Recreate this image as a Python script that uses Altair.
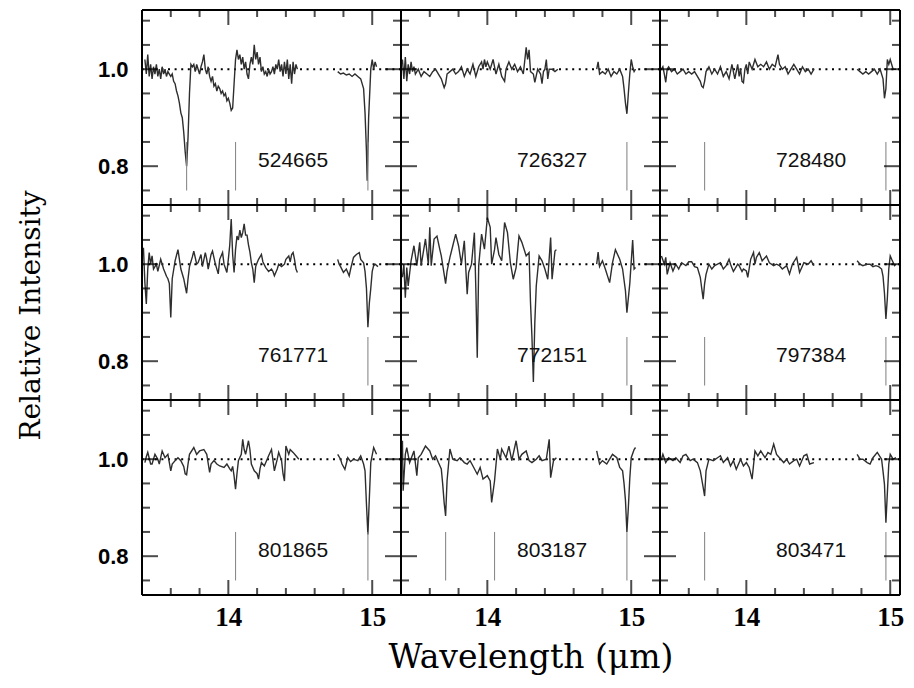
import altair as alt
import pandas as pd

IDS = ["524665", "726327", "728480",
       "761771", "772151", "797384",
       "801865", "803187", "803471"]

# (wavelength um, relative intensity); A = short segment, B = long segment
S524665_A = [(13.42, 1.02), (13.43, 0.99), (13.44, 1.03), (13.45, 0.985), (13.46, 1.01), (13.47, 0.98),
             (13.48, 1.005), (13.49, 0.99), (13.50, 1.01), (13.51, 0.985), (13.52, 1.0), (13.53, 0.98),
             (13.54, 1.005), (13.55, 0.99), (13.56, 1.0), (13.57, 0.985), (13.58, 0.995), (13.59, 0.99),
             (13.60, 0.985), (13.61, 0.99), (13.62, 0.975), (13.63, 0.97), (13.64, 0.955), (13.65, 0.945),
             (13.66, 0.93), (13.67, 0.91), (13.68, 0.90), (13.69, 0.87), (13.70, 0.83), (13.71, 0.80),
             (13.72, 0.86), (13.73, 0.95), (13.74, 1.01), (13.75, 1.005), (13.76, 1.01), (13.77, 0.995),
             (13.78, 1.01), (13.79, 1.0), (13.80, 0.99), (13.81, 1.005), (13.82, 1.015), (13.83, 1.03),
             (13.84, 1.0), (13.85, 0.99), (13.86, 1.005), (13.87, 0.985), (13.88, 0.975), (13.89, 0.985),
             (13.90, 0.965), (13.91, 0.97), (13.92, 0.955), (13.93, 0.965), (13.94, 0.96), (13.95, 0.95),
             (13.96, 0.955), (13.97, 0.945), (13.98, 0.95), (13.99, 0.935), (14.00, 0.94), (14.01, 0.93),
             (14.02, 0.915), (14.03, 0.92), (14.04, 0.97), (14.05, 1.02), (14.06, 1.04), (14.07, 1.02),
             (14.08, 1.03), (14.09, 1.01), (14.10, 1.025), (14.11, 1.0), (14.12, 1.015), (14.13, 0.99),
             (14.14, 0.98), (14.15, 1.01), (14.16, 1.025), (14.17, 1.01), (14.18, 1.05), (14.19, 1.02),
             (14.20, 1.035), (14.21, 1.01), (14.22, 1.025), (14.23, 0.995), (14.24, 1.005), (14.25, 0.99),
             (14.26, 0.995), (14.27, 0.985), (14.28, 1.0), (14.29, 0.99), (14.30, 0.995), (14.31, 1.005),
             (14.32, 0.99), (14.33, 1.01), (14.34, 1.0), (14.35, 1.02), (14.36, 0.995), (14.37, 1.01),
             (14.38, 0.985), (14.39, 1.015), (14.40, 0.99), (14.41, 1.02), (14.42, 0.98), (14.43, 1.01),
             (14.44, 0.97), (14.45, 1.015), (14.46, 0.99), (14.47, 1.01), (14.48, 1.0)]
S524665_B = [(14.76, 0.995), (14.78, 0.99), (14.80, 0.992), (14.82, 0.988), (14.84, 0.99), (14.86, 0.985),
             (14.88, 0.99), (14.90, 0.985), (14.92, 0.98), (14.94, 0.96), (14.95, 0.91), (14.96, 0.83),
             (14.965, 0.77), (14.975, 0.90), (14.99, 1.0), (15.00, 1.02), (15.01, 1.0), (15.02, 1.015),
             (15.03, 1.005)]

S726327_A = [(13.41, 1.02), (13.42, 0.98), (13.43, 1.025), (13.44, 0.975), (13.45, 1.01), (13.46, 0.99),
             (13.47, 1.015), (13.48, 0.995), (13.49, 1.005), (13.50, 0.99), (13.52, 1.0), (13.54, 0.985),
             (13.56, 0.995), (13.58, 0.99), (13.60, 0.985), (13.62, 0.995), (13.64, 1.0), (13.66, 0.99),
             (13.68, 0.98), (13.70, 0.962), (13.71, 0.97), (13.72, 0.99), (13.74, 0.995), (13.76, 1.0),
             (13.78, 0.99), (13.80, 0.995), (13.82, 1.005), (13.84, 0.985), (13.86, 1.0), (13.88, 0.99),
             (13.90, 1.01), (13.92, 0.985), (13.94, 1.005), (13.96, 1.015), (13.97, 1.0), (13.98, 1.02),
             (13.99, 1.005), (14.00, 1.015), (14.02, 1.0), (14.04, 1.02), (14.06, 0.99), (14.08, 1.01),
             (14.10, 0.985), (14.12, 0.975), (14.13, 1.0), (14.15, 1.015), (14.17, 1.0), (14.19, 1.01),
             (14.21, 0.995), (14.23, 1.005), (14.25, 0.99), (14.27, 1.045), (14.28, 1.02), (14.29, 1.04),
             (14.30, 0.995), (14.32, 0.99), (14.33, 0.973), (14.35, 1.0), (14.37, 0.99), (14.38, 0.97),
             (14.39, 0.995), (14.40, 1.0), (14.41, 1.02), (14.42, 0.98), (14.43, 1.0), (14.45, 1.0),
             (14.47, 0.995), (14.49, 1.0)]
S726327_B = [(14.76, 1.0), (14.77, 1.015), (14.78, 0.99), (14.80, 0.995), (14.82, 0.99), (14.84, 1.0),
             (14.86, 0.985), (14.88, 0.995), (14.90, 0.99), (14.92, 1.0), (14.94, 0.985), (14.95, 0.96),
             (14.96, 0.93), (14.97, 0.908), (14.98, 0.95), (14.99, 0.99), (15.00, 1.02), (15.01, 1.005),
             (15.02, 0.995), (15.03, 1.0)]

S728480_A = [(13.41, 1.0), (13.42, 1.005), (13.43, 0.99), (13.44, 0.973), (13.45, 1.0), (13.46, 1.005),
             (13.48, 0.995), (13.50, 1.0), (13.52, 0.99), (13.54, 0.995), (13.56, 1.0), (13.58, 0.99),
             (13.60, 0.995), (13.62, 0.99), (13.64, 0.995), (13.66, 0.985), (13.68, 0.975), (13.69, 0.965),
             (13.70, 0.962), (13.71, 0.975), (13.72, 0.995), (13.74, 1.005), (13.76, 0.99), (13.78, 1.0),
             (13.80, 0.99), (13.82, 1.005), (13.84, 0.985), (13.86, 0.995), (13.88, 0.98), (13.90, 1.01),
             (13.92, 0.98), (13.94, 1.01), (13.95, 0.985), (13.96, 1.0), (13.97, 0.975), (13.98, 0.972),
             (13.99, 1.0), (14.00, 1.01), (14.01, 0.99), (14.02, 1.015), (14.04, 1.0), (14.06, 1.02),
             (14.08, 1.005), (14.10, 1.01), (14.12, 1.005), (14.14, 1.015), (14.16, 1.0), (14.18, 1.01),
             (14.20, 1.005), (14.22, 1.03), (14.23, 1.01), (14.25, 1.0), (14.27, 1.005), (14.29, 0.99),
             (14.31, 1.0), (14.33, 1.01), (14.35, 1.0), (14.37, 0.99), (14.39, 1.005), (14.41, 0.995),
             (14.43, 1.0), (14.45, 0.99), (14.47, 1.0)]
S728480_B = [(14.77, 1.0), (14.79, 0.995), (14.81, 0.99), (14.83, 0.995), (14.85, 0.99), (14.87, 0.995),
             (14.89, 1.0), (14.91, 0.99), (14.93, 1.0), (14.95, 0.98), (14.96, 0.94), (14.97, 0.96),
             (14.98, 1.02), (14.99, 1.01), (15.00, 1.02), (15.02, 1.0), (15.04, 1.0)]

S761771_A = [(13.41, 1.034), (13.42, 0.962), (13.43, 0.918), (13.44, 0.99), (13.45, 1.024), (13.46, 1.0),
             (13.47, 1.017), (13.48, 0.99), (13.50, 1.0), (13.51, 0.985), (13.53, 1.01), (13.55, 0.99),
             (13.56, 0.983), (13.57, 0.975), (13.58, 0.97), (13.59, 0.96), (13.60, 0.89), (13.61, 0.97),
             (13.63, 1.007), (13.65, 1.03), (13.66, 1.01), (13.67, 0.99), (13.69, 0.97), (13.70, 0.955),
             (13.71, 0.94), (13.72, 0.97), (13.73, 0.995), (13.75, 1.015), (13.76, 1.027), (13.78, 1.0),
             (13.79, 1.003), (13.81, 1.02), (13.82, 0.995), (13.84, 1.024), (13.85, 1.01), (13.86, 0.99),
             (13.88, 1.02), (13.89, 1.027), (13.91, 1.0), (13.93, 0.98), (13.94, 1.01), (13.96, 1.024),
             (13.97, 1.0), (13.99, 0.983), (14.00, 1.01), (14.01, 1.04), (14.02, 1.093), (14.03, 1.02),
             (14.04, 0.983), (14.05, 1.03), (14.06, 1.058), (14.07, 1.05), (14.08, 1.07), (14.09, 1.055),
             (14.10, 1.065), (14.11, 1.083), (14.12, 1.06), (14.13, 1.06), (14.14, 1.04), (14.15, 1.025),
             (14.16, 1.003), (14.17, 0.99), (14.18, 0.962), (14.19, 0.995), (14.20, 1.003), (14.21, 1.01),
             (14.22, 1.015), (14.23, 1.02), (14.24, 1.005), (14.26, 0.993), (14.28, 0.985), (14.30, 0.99),
             (14.31, 0.985), (14.32, 0.976), (14.34, 0.99), (14.35, 1.0), (14.37, 0.995), (14.39, 1.0),
             (14.40, 1.01), (14.42, 1.017), (14.43, 1.005), (14.44, 1.02), (14.45, 1.024), (14.46, 1.01),
             (14.47, 0.99), (14.48, 0.983)]
S761771_B = [(14.76, 1.01), (14.77, 1.0), (14.78, 0.995), (14.80, 0.983), (14.82, 0.99), (14.84, 0.976),
             (14.85, 0.99), (14.87, 1.014), (14.89, 1.02), (14.91, 1.024), (14.92, 1.01), (14.94, 1.003),
             (14.95, 0.985), (14.96, 0.95), (14.97, 0.87), (14.98, 0.92), (14.99, 0.95), (15.00, 0.985),
             (15.01, 0.997), (15.02, 1.0), (15.04, 0.995)]

S772151_A = [(13.41, 0.973), (13.42, 1.0), (13.43, 0.931), (13.44, 0.993), (13.45, 0.955), (13.47, 1.007),
             (13.49, 1.038), (13.51, 0.997), (13.53, 1.045), (13.54, 0.997), (13.57, 1.052), (13.59, 1.0),
             (13.60, 1.076), (13.61, 0.997), (13.63, 1.052), (13.65, 1.058), (13.67, 1.03), (13.68, 1.017),
             (13.71, 0.96), (13.72, 0.985), (13.74, 1.014), (13.76, 1.038), (13.78, 1.062), (13.80, 1.038),
             (13.82, 1.0), (13.84, 1.048), (13.86, 0.938), (13.87, 0.983), (13.89, 1.0), (13.91, 1.065),
             (13.92, 0.95), (13.93, 0.807), (13.94, 0.997), (13.96, 1.062), (13.98, 1.031), (14.00, 1.096),
             (14.02, 1.076), (14.03, 1.0), (14.05, 1.03), (14.06, 1.055), (14.08, 1.02), (14.10, 1.007),
             (14.12, 1.086), (14.14, 1.065), (14.16, 1.003), (14.18, 0.969), (14.20, 0.993), (14.22, 1.058),
             (14.24, 1.045), (14.27, 1.017), (14.29, 1.024), (14.30, 0.921), (14.31, 0.85), (14.32, 0.757),
             (14.33, 0.88), (14.34, 0.955), (14.36, 1.017), (14.38, 1.007), (14.40, 0.99), (14.42, 0.969),
             (14.44, 1.055), (14.45, 0.969), (14.47, 1.027), (14.48, 1.03)]
S772151_B = [(14.76, 1.0), (14.77, 1.025), (14.78, 0.995), (14.80, 1.007), (14.82, 0.99), (14.85, 0.962),
             (14.87, 1.003), (14.89, 1.03), (14.92, 1.01), (14.94, 0.99), (14.96, 0.945), (14.97, 0.90),
             (14.99, 0.96), (15.01, 1.05), (15.02, 0.99), (15.03, 0.993)]

S797384_A = [(13.41, 1.017), (13.43, 1.0), (13.44, 1.014), (13.45, 0.979), (13.47, 1.003), (13.49, 0.986),
             (13.51, 1.0), (13.53, 0.99), (13.55, 1.003), (13.58, 0.997), (13.60, 1.005), (13.62, 1.005),
             (13.64, 0.995), (13.66, 0.993), (13.68, 0.973), (13.69, 0.95), (13.70, 0.928), (13.71, 0.96),
             (13.72, 0.979), (13.74, 1.0), (13.76, 0.99), (13.78, 0.997), (13.80, 1.0), (13.82, 1.003),
             (13.84, 0.99), (13.86, 0.997), (13.88, 1.01), (13.89, 1.0), (13.91, 0.985), (13.92, 0.99),
             (13.94, 1.0), (13.95, 0.997), (13.97, 0.985), (13.98, 0.99), (14.00, 0.986), (14.01, 0.973),
             (14.03, 1.01), (14.05, 1.024), (14.06, 1.0), (14.07, 1.014), (14.09, 1.024), (14.11, 1.007),
             (14.14, 1.017), (14.16, 1.003), (14.19, 0.997), (14.21, 1.0), (14.23, 0.997), (14.25, 0.99),
             (14.28, 0.997), (14.30, 0.98), (14.32, 1.0), (14.35, 1.014), (14.37, 0.983), (14.40, 1.003),
             (14.43, 1.0), (14.45, 1.007), (14.47, 0.997)]
S797384_B = [(14.77, 1.007), (14.79, 1.0), (14.81, 0.997), (14.84, 1.0), (14.86, 1.0), (14.88, 0.995),
             (14.90, 0.997), (14.92, 0.995), (14.94, 0.99), (14.95, 0.975), (14.96, 0.94), (14.97, 0.887),
             (14.98, 0.93), (14.99, 0.99), (15.00, 1.017), (15.01, 1.01), (15.03, 0.997), (15.04, 1.0)]

S801865_A = [(13.42, 0.993), (13.43, 1.005), (13.44, 1.014), (13.46, 0.99), (13.47, 0.99), (13.49, 1.01),
             (13.51, 1.0), (13.52, 0.99), (13.54, 1.017), (13.56, 1.003), (13.58, 1.01), (13.60, 0.976),
             (13.61, 0.99), (13.63, 0.997), (13.65, 1.003), (13.67, 0.997), (13.69, 0.985), (13.70, 0.97),
             (13.71, 0.968), (13.72, 0.99), (13.73, 1.01), (13.76, 1.024), (13.78, 1.01), (13.80, 1.017),
             (13.83, 1.02), (13.85, 1.01), (13.87, 0.973), (13.88, 0.99), (13.90, 0.997), (13.92, 0.99),
             (13.94, 0.986), (13.97, 0.983), (13.99, 0.99), (14.01, 0.98), (14.02, 0.976), (14.03, 0.985),
             (14.04, 0.965), (14.05, 0.938), (14.06, 0.97), (14.07, 0.997), (14.09, 1.01), (14.10, 1.041),
             (14.11, 1.02), (14.12, 1.01), (14.14, 1.038), (14.15, 1.02), (14.16, 0.99), (14.18, 0.976),
             (14.20, 0.97), (14.21, 0.959), (14.22, 0.98), (14.23, 0.993), (14.25, 0.986), (14.28, 1.007),
             (14.30, 1.02), (14.32, 0.976), (14.34, 1.0), (14.35, 1.014), (14.37, 0.997), (14.38, 0.97),
             (14.39, 0.955), (14.40, 1.027), (14.42, 1.01), (14.43, 1.02), (14.45, 1.014), (14.47, 1.007),
             (14.49, 1.0)]
S801865_B = [(14.76, 1.01), (14.78, 1.0), (14.79, 0.99), (14.81, 0.979), (14.83, 1.003), (14.85, 0.995),
             (14.87, 1.0), (14.90, 0.997), (14.92, 1.007), (14.94, 0.99), (14.95, 0.976), (14.96, 0.907),
             (14.97, 0.845), (14.98, 0.92), (14.99, 0.993), (15.01, 1.024), (15.03, 1.01)]

S803187_A = [(13.41, 1.038), (13.415, 0.935), (13.43, 1.01), (13.44, 1.024), (13.46, 0.993), (13.49, 1.017),
             (13.51, 0.966), (13.52, 1.003), (13.54, 1.01), (13.57, 1.027), (13.60, 1.017), (13.62, 1.0),
             (13.64, 1.007), (13.66, 0.993), (13.68, 0.98), (13.69, 0.948), (13.70, 0.91), (13.71, 0.883),
             (13.72, 0.955), (13.74, 1.021), (13.76, 1.0), (13.79, 0.997), (13.81, 1.003), (13.84, 0.993),
             (13.86, 0.99), (13.88, 0.997), (13.90, 0.986), (13.93, 0.969), (13.95, 0.983), (13.97, 0.959),
             (14.00, 0.966), (14.02, 0.955), (14.03, 0.911), (14.05, 0.955), (14.07, 1.021), (14.09, 1.0),
             (14.10, 1.021), (14.13, 1.003), (14.15, 1.027), (14.17, 0.997), (14.20, 1.038), (14.22, 1.0),
             (14.24, 1.01), (14.27, 1.017), (14.29, 0.997), (14.31, 0.993), (14.34, 1.0), (14.36, 1.007),
             (14.38, 0.997), (14.41, 1.0), (14.43, 1.041), (14.44, 0.962), (14.46, 0.997), (14.48, 1.003)]
S803187_B = [(14.76, 1.017), (14.78, 0.99), (14.80, 0.997), (14.83, 0.99), (14.85, 1.0), (14.87, 1.01),
             (14.90, 1.003), (14.92, 0.983), (14.94, 0.976), (14.95, 0.95), (14.96, 0.915), (14.97, 0.85),
             (14.98, 0.90), (14.99, 0.96), (15.00, 1.003), (15.02, 1.02), (15.03, 1.024)]

S803471_A = [(13.41, 1.0), (13.42, 1.01), (13.44, 0.993), (13.46, 1.003), (13.49, 0.997), (13.51, 1.003),
             (13.54, 0.993), (13.56, 1.007), (13.58, 1.01), (13.61, 0.997), (13.63, 1.0), (13.66, 0.993),
             (13.68, 0.976), (13.70, 0.942), (13.71, 0.924), (13.72, 0.976), (13.74, 1.0), (13.77, 0.997),
             (13.80, 1.003), (13.82, 1.007), (13.84, 0.993), (13.87, 1.003), (13.89, 0.986), (13.91, 0.997),
             (13.93, 0.979), (13.96, 1.0), (13.98, 0.986), (14.00, 0.993), (14.02, 0.983), (14.04, 0.959),
             (14.06, 1.017), (14.08, 1.007), (14.10, 1.017), (14.13, 1.003), (14.15, 1.014), (14.17, 1.01),
             (14.19, 1.031), (14.21, 1.01), (14.23, 1.003), (14.26, 0.993), (14.28, 1.0), (14.30, 0.99),
             (14.33, 0.997), (14.35, 1.0), (14.37, 0.986), (14.40, 1.007), (14.42, 1.01), (14.44, 0.99),
             (14.47, 0.993)]
S803471_B = [(14.77, 1.01), (14.79, 1.0), (14.81, 1.0), (14.84, 0.993), (14.86, 0.99), (14.88, 1.003),
             (14.91, 1.014), (14.94, 1.0), (14.95, 0.975), (14.96, 0.948), (14.97, 0.869), (14.98, 0.93),
             (14.99, 0.99), (15.00, 1.01), (15.02, 1.0), (15.04, 1.003)]

SPECTRA = {
    "524665": (S524665_A, S524665_B), "726327": (S726327_A, S726327_B),
    "728480": (S728480_A, S728480_B), "761771": (S761771_A, S761771_B),
    "772151": (S772151_A, S772151_B), "797384": (S797384_A, S797384_B),
    "801865": (S801865_A, S801865_B), "803187": (S803187_A, S803187_B),
    "803471": (S803471_A, S803471_B),
}

# feature marker wavelengths in each panel
MARKERS = {
    "524665": [13.71, 14.05, 14.97], "726327": [14.97], "728480": [13.71, 14.97],
    "761771": [14.97], "772151": [14.97], "797384": [13.71, 14.97],
    "801865": [14.05, 14.97], "803187": [13.71, 14.05, 14.97], "803471": [13.71, 14.97],
}
MARKER_RANGE = [0.75, 0.85]
LABEL_POS = [14.45, 0.81]
CONTINUUM = [1.0]

X_TICKS = [13.6, 13.8, 14.0, 14.2, 14.4, 14.6, 14.8, 15.0]
X_MAJOR = [14.0, 15.0]
Y_TICKS = [0.75, 0.80, 0.85, 0.90, 0.95, 1.00, 1.05, 1.10]
Y_MAJOR = [0.80, 1.00]
X_LABELS = [14, 15]
Y_LABELS = [0.8, 1.0]

# layout / style constants
X_MIN, X_MAX = 13.4, 15.2
Y_MIN, Y_MAX = 0.72, 1.122
PANEL_W, PANEL_H = 259, 195
LAST_W = 240
PPX = PANEL_W / (X_MAX - X_MIN)
PPY = PANEL_H / (Y_MAX - Y_MIN)
XT_LEN = (7, 15)   # minor, major tick length (px)
YT_LEN = (8, 16)


def panel(i, pid):
    row, col = divmod(i, 3)
    w = PANEL_W if col < 2 else LAST_W
    xmax = X_MAX if col < 2 else X_MIN + LAST_W / PPX
    xscale = alt.Scale(domain=[X_MIN, xmax], nice=False, zero=False)
    yscale = alt.Scale(domain=[Y_MIN, Y_MAX], nice=False, zero=False)

    if row == 2:
        xaxis = alt.Axis(values=X_LABELS, format="d", grid=False, domain=False, ticks=False, tickSize=0,
                         labelFont="Liberation Serif", labelFontWeight="bold", labelFontSize=27,
                         labelColor="black", labelPadding=9, labelFlush=False,
                         title="Wavelength (μm)" if col == 1 else None,
                         titleFont="DejaVu Serif", titleFontSize=33, titleFontWeight="normal",
                         titleColor="black", titlePadding=11)
    else:
        xaxis = None
    if col == 0:
        yaxis = alt.Axis(values=Y_LABELS, format=".1f", grid=False, domain=False, ticks=False, tickSize=0,
                         labelFont="Liberation Sans", labelFontWeight="bold", labelFontSize=22,
                         labelColor="black", labelPadding=14, labelFlush=False,
                         title="Relative Intensity" if row == 1 else None,
                         titleFont="DejaVu Serif", titleFontSize=28, titleFontWeight="normal",
                         titleColor="black", titlePadding=52, titleY=110)
    else:
        yaxis = None

    def X(f):
        return alt.X(f, type="quantitative", scale=xscale, axis=xaxis)

    def Y(f):
        return alt.Y(f, type="quantitative", scale=yscale, axis=yaxis)

    a, b = SPECTRA[pid]
    spec_df = pd.DataFrame(
        [{"wl": w_, "v": v_, "seg": "a"} for w_, v_ in a] +
        [{"wl": w_, "v": v_, "seg": "b"} for w_, v_ in b])
    cont_df = pd.DataFrame({"c": CONTINUUM})
    mark_df = pd.DataFrame({"wl": MARKERS[pid], "lo": MARKER_RANGE[0], "hi": MARKER_RANGE[1]})
    hframe_df = pd.DataFrame({"c": [Y_MIN, Y_MAX]})
    vframe_df = pd.DataFrame({"c": [X_MIN, xmax]})

    # tick marks centred on the frame (outer half clipped) -- same approach that rendered before
    xt_df = pd.DataFrame([{"x": t, "y": yy, "len": 2 * (XT_LEN[1] if t in X_MAJOR else XT_LEN[0])}
                          for t in X_TICKS for yy in (Y_MIN, Y_MAX)])
    yt_df = pd.DataFrame([{"x": xx, "y": t, "len": 2 * (YT_LEN[1] if t in Y_MAJOR else YT_LEN[0])}
                          for t in Y_TICKS for xx in (X_MIN, xmax)])
    lab_df = pd.DataFrame({"x": [LABEL_POS[0]], "y": [LABEL_POS[1]], "t": [pid]})

    cont = alt.Chart(cont_df).mark_rule(color="black", strokeWidth=2, strokeDash=[2, 4.6]).encode(y=Y("c"))
    spec = alt.Chart(spec_df).mark_line(color="#2e2e2e", strokeWidth=1.4, clip=True).encode(
        x=X("wl"), y=Y("v"), detail="seg:N")
    marks = alt.Chart(mark_df).mark_rule(color="#8a8a8a", strokeWidth=1.1).encode(
        x=X("wl"), y=Y("lo"), y2="hi")
    xt = alt.Chart(xt_df).mark_tick(orient="vertical", color="black", thickness=2, clip=True).encode(
        x=X("x"), y=Y("y"), size=alt.Size("len:Q", scale=None, legend=None))
    yt = alt.Chart(yt_df).mark_tick(orient="horizontal", color="black", thickness=2, clip=True).encode(
        x=X("x"), y=Y("y"), size=alt.Size("len:Q", scale=None, legend=None))
    hframe = alt.Chart(hframe_df).mark_rule(color="black", strokeWidth=2).encode(y=Y("c"))
    vframe = alt.Chart(vframe_df).mark_rule(color="black", strokeWidth=2).encode(x=X("c"))
    lab = alt.Chart(lab_df).mark_text(font="Liberation Sans", fontSize=21, color="#111").encode(
        x=X("x"), y=Y("y"), text="t:N")
    return alt.layer(cont, spec, marks, xt, yt, hframe, vframe, lab).properties(width=w, height=PANEL_H)


panels = [panel(i, pid) for i, pid in enumerate(IDS)]

chart = alt.concat(*panels, columns=3, spacing=0, bounds="flush").properties(
    padding={"left": 8, "top": 0, "right": 0, "bottom": 0}
).configure_view(stroke="black", strokeWidth=2).configure(background="white")

chart.save("out.html", embed_options={"renderer": "svg", "actions": False})
